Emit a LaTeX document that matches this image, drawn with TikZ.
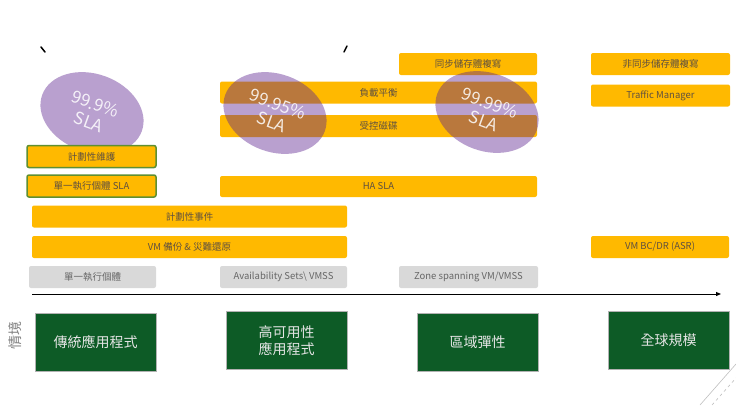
\documentclass[tikz,border=0pt]{standalone}
\usepackage{fontspec}
\setmainfont{Noto Sans CJK TC}
\usetikzlibrary{shapes.geometric,arrows.meta}

\definecolor{azorange}{HTML}{FFB900}
\definecolor{azgreen}{HTML}{0D5B26}
\definecolor{azgrey}{HTML}{D9D9D9}
\definecolor{slapurple}{HTML}{5D238F}
\definecolor{bartext}{HTML}{5F5040}
\definecolor{maintgreen}{HTML}{5E8F32}

\begin{document}
\begin{tikzpicture}[x=1pt, y=-1pt,
    every node/.style={font=\fontsize{9.5}{10}\selectfont},
    bar/.style={fill=azorange, rounded corners=2pt, text=bartext, minimum height=22pt, inner sep=0pt},
    greybar/.style={fill=azgrey, rounded corners=2pt, text=black!60, minimum height=22pt, inner sep=0pt},
    scen/.style={fill=azgreen, draw=black!30, text=black!10, minimum width=121pt, minimum height=58pt,
      align=center, font=\fontsize{14}{17}\selectfont},
    sla/.style={ellipse, fill=slapurple, fill opacity=.43, text opacity=.85, text=white, inner sep=0pt,
      minimum width=106pt, minimum height=78pt, rotate=-20, align=center,
      font=\fontsize{17}{19}\selectfont}]
    \useasboundingbox (0,0) rectangle (736,405);

    % left ellipse sits under the boxes below it
    \node[sla] (sla1) at (92,113) {99.9\%\\SLA};

    % top row
    \node[bar, minimum width=138pt] (syncrep) at (468,64) {同步儲存體複寫};
    \node[bar, minimum width=139pt] (asyncrep) at (660.5,64) {非同步儲存體複寫};
    \node[bar, minimum width=317pt] (lb) at (378.5,92.5) {負載平衡};
    \node[bar, minimum width=139pt] (tm) at (660.5,95.5) {Traffic Manager};
    \node[bar, minimum width=317pt] (md) at (378.5,126) {受控磁碟};

    % SLA rows
    \node[bar, draw=maintgreen, line width=1.5pt, minimum width=129pt] (maint) at (91.5,156.5) {計劃性維護};
    \node[bar, draw=maintgreen, line width=1.5pt, minimum width=129pt] (vmsla) at (91.5,186) {單一執行個體 SLA};
    \node[bar, minimum width=317pt, minimum height=21pt] (hasla) at (378.5,186.5) {HA SLA};
    \node[bar, minimum width=315pt] (events) at (189.5,216.5) {計劃性事件};
    \node[bar, minimum width=315pt] (backup) at (189.5,247) {VM 備份 \& 災難還原};
    \node[bar, minimum width=138pt] (bcdr) at (660,247) {VM BC/DR (ASR)};

    % deployment options
    \node[greybar, minimum width=127pt] (single) at (92.5,277) {單一執行個體};
    \node[greybar, minimum width=127pt] (avset) at (283.5,277) {Availability Sets\textbackslash{} VMSS};
    \node[greybar, minimum width=139pt] (zone) at (468.5,277) {Zone spanning VM/VMSS};

    % axis
    \coordinate (axisL) at (32,294);
    \coordinate (axisR) at (721,294);
    \draw[-{Triangle[length=5pt,width=4pt]}, line width=1pt] (axisL) -- (axisR);

    % scenarios
    \node[rotate=90, text=black!50, font=\fontsize{14}{14}\selectfont] (scenario) at (15,335) {情境};
    \node[scen] (legacy) at (95.5,342) {傳統應用程式};
    \node[scen] (haapp) at (286.5,340.5) {高可用性\\應用程式};
    \node[scen] (zonal) at (477.5,342.5) {區域彈性};
    \node[scen] (global) at (668.5,340.5) {全球規模};

    % SLA ellipses over the bars
    \node[sla] (sla2) at (275,113) {99.95\%\\SLA};
    \node[sla] (sla3) at (487,112) {99.99\%\\SLA};

    % marks at the top and corner decoration
    \draw[line width=1.5pt, line cap=round] (41,47) -- (45,52);
    \draw[line width=1.5pt, line cap=round] (347,46) -- (344,52);
    \draw[black!25, line width=.6pt] (700,405) -- (736,364);
    \draw[black!25, line width=.6pt, dashed] (712,405) -- (736,378);
\end{tikzpicture}
\end{document}
